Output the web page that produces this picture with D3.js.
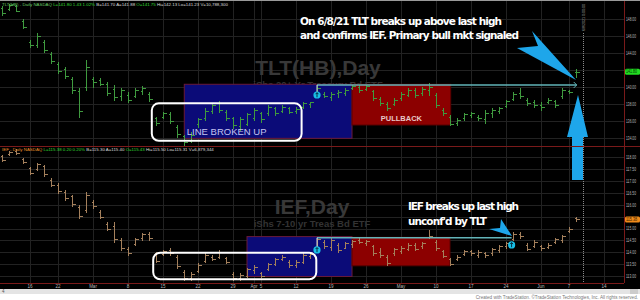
<!DOCTYPE html>
<html>
<head>
<meta charset="utf-8">
<script src="https://cdn.jsdelivr.net/npm/d3@7"></script>
<style>
  body { margin: 0; background: #fff; }
  svg { display: block; }
</style>
</head>
<body>
<div id="chart"></div>
<script>
// Size of the page / panes
const width = 640;
const height = 300;
const plotRight = 624;
const topPane = { y0: 0, y1: 146 };
const botPane = { y0: 146, y1: 283 };

// Trading calendar (category axis)
const holidays = ["2021-02-15", "2021-04-02", "2021-05-31"];
const parseDay = d3.timeParse("%Y-%m-%d");
const fmtDay = d3.timeFormat("%Y-%m-%d");
const days = d3.timeDay.range(parseDay("2021-02-09"), parseDay("2021-06-19"))
    .filter((d) => d.getDay() !== 0 && d.getDay() !== 6 && !holidays.includes(fmtDay(d)))
    .map(fmtDay);

// x axis labels
const tickDates = ["2021-02-16", "2021-02-22", "2021-03-01", "2021-03-08", "2021-03-15", "2021-03-22",
    "2021-03-29", "2021-04-01", "2021-04-05", "2021-04-12", "2021-04-19", "2021-04-26", "2021-05-03",
    "2021-05-10", "2021-05-17", "2021-05-24", "2021-06-01", "2021-06-07", "2021-06-14"];
const tickText = ["16", "22", "Mar", "8", "15", "22", "29", "Apr", "5", "12", "19", "26", "May",
    "10", "17", "24", "Jun", "7", "14"];

// y axis labels
const tltTicks = [148, 146, 144, 142, 140, 138, 136, 134];
const iefTicks = [118, 117.5, 117, 116.5, 116, 115.5, 115, 114.5, 114, 113.5, 113];

// TLT daily bars [open, high, low, close], Feb 9 .. Jun 8
const tltBars = [
    [149.3, 149.5, 148.5, 148.7], [149.2, 149.8, 149.1, 149.6], [149.5, 149.6, 148.9, 149.0], [147.8, 148.0, 146.9, 147.1],
    [145.3, 145.5, 144.7, 144.9], [144.9, 146.35, 144.7, 146.0], [145.3, 145.5, 144.1, 144.3], [143.9, 144.1, 142.8, 143.0],
    [142.7, 142.9, 141.65, 141.9], [142.1, 142.35, 141.05, 141.3], [141.0, 141.2, 139.3, 139.6], [139.5, 139.9, 136.5, 137.2],
    [140.0, 143.2, 139.65, 142.3], [140.9, 141.2, 140.0, 140.6], [140.8, 141.05, 140.25, 140.4], [140.3, 140.6, 139.05, 139.3],
    [139.8, 140.25, 138.5, 138.8], [139.0, 139.9, 138.5, 139.6], [139.1, 139.4, 138.25, 138.5], [139.0, 139.9, 138.8, 139.6],
    [139.5, 140.1, 139.2, 139.9], [139.2, 139.4, 138.35, 138.6], [136.3, 136.5, 135.5, 135.8], [136.5, 137.05, 136.35, 136.9],
    [136.8, 137.05, 135.75, 136.0], [135.3, 135.5, 134.1, 134.5], [134.2, 134.35, 133.05, 133.5], [133.7, 134.7, 133.5, 134.4],
    [135.6, 136.35, 135.3, 136.2], [136.3, 137.5, 136.1, 137.2], [137.2, 138.1, 136.95, 137.9], [138.1, 138.35, 137.05, 137.3],
    [137.1, 137.3, 136.1, 136.3], [136.3, 136.5, 135.2, 135.5], [135.4, 136.5, 134.95, 136.2], [135.7, 136.95, 135.5, 136.8],
    [136.4, 137.5, 136.1, 137.3], [136.9, 137.05, 135.9, 136.2], [136.9, 137.9, 136.7, 137.7], [137.5, 137.65, 136.7, 136.9],
    [137.2, 137.9, 137.05, 137.7], [137.5, 137.65, 136.95, 137.1], [137.2, 137.65, 136.95, 137.4], [137.6, 138.25, 137.5, 138.1],
    [138.0, 138.25, 137.65, 138.2], [139.3, 140.24, 139.05, 139.9], [139.2, 139.4, 138.8, 139.0], [138.8, 139.4, 138.5, 139.2],
    [139.3, 139.65, 138.8, 139.4], [139.3, 139.9, 139.05, 139.7], [139.9, 140.2, 139.75, 140.1], [140.0, 140.2, 139.4, 139.6],
    [139.8, 140.2, 139.65, 140.1], [139.5, 139.65, 138.5, 138.7], [138.6, 138.8, 137.9, 138.1], [138.0, 138.25, 137.3, 137.5],
    [138.0, 138.7, 137.9, 138.5], [138.7, 139.4, 138.5, 139.2], [139.1, 139.9, 138.95, 139.7], [139.6, 139.9, 138.8, 139.1],
    [139.3, 140.0, 139.05, 139.8], [139.6, 140.45, 139.05, 140.0], [139.1, 139.3, 137.65, 137.9], [137.3, 137.5, 136.7, 136.9],
    [136.5, 136.7, 135.5, 135.7], [135.8, 136.35, 135.5, 136.1], [136.3, 136.95, 136.1, 136.8], [136.7, 137.05, 136.5, 136.9],
    [136.5, 136.7, 136.1, 136.3], [136.2, 137.3, 135.75, 137.0], [136.9, 137.5, 136.5, 137.3], [137.2, 137.65, 136.95, 137.5],
    [137.8, 138.5, 137.65, 138.3], [138.6, 139.4, 138.5, 139.2], [139.3, 139.9, 138.7, 138.9], [138.5, 138.7, 137.9, 138.1],
    [138.2, 138.5, 137.65, 137.9], [137.9, 138.25, 137.3, 137.6], [138.2, 138.7, 138.1, 138.5], [138.3, 138.5, 137.65, 137.9],
    [138.9, 139.9, 138.7, 139.7], [139.5, 139.65, 139.3, 139.4], [141.75, 142.13, 141.23, 141.80]
];

// IEF daily bars [open, high, low, close], Feb 9 .. Jun 8
const iefBars = [
    [118.05, 118.10, 117.84, 117.90], [118.12, 118.27, 118.10, 118.22], [118.25, 118.35, 118.14, 118.18], [117.92, 117.97, 117.76, 117.80],
    [117.55, 117.59, 117.30, 117.35], [117.50, 117.76, 117.47, 117.70], [117.62, 117.68, 117.21, 117.28], [117.05, 117.13, 116.79, 116.85],
    [116.85, 116.92, 116.50, 116.58], [116.55, 116.62, 116.20, 116.28], [116.35, 116.41, 115.95, 116.02], [115.92, 115.99, 115.44, 115.52],
    [115.80, 116.54, 115.70, 116.40], [116.10, 116.20, 115.86, 115.95], [115.70, 115.78, 115.44, 115.50], [115.20, 115.27, 114.94, 115.00],
    [115.10, 115.27, 114.43, 114.55], [114.50, 114.60, 114.10, 114.18], [114.15, 114.22, 113.88, 113.95], [114.35, 114.60, 114.31, 114.55],
    [114.58, 114.81, 114.52, 114.75], [114.78, 114.85, 114.52, 114.58], [113.95, 114.01, 113.59, 113.65], [113.92, 114.10, 113.88, 114.05],
    [114.10, 114.18, 113.88, 113.95], [113.82, 113.88, 113.34, 113.42], [113.18, 113.25, 112.83, 112.92], [112.90, 113.17, 112.83, 113.10],
    [113.22, 113.55, 113.17, 113.48], [113.65, 113.97, 113.59, 113.90], [113.82, 113.88, 113.67, 113.72], [113.80, 114.10, 113.76, 114.02],
    [113.75, 113.80, 113.55, 113.60], [113.10, 113.17, 112.83, 112.90], [112.92, 113.13, 112.83, 113.05], [113.02, 113.34, 112.96, 113.28],
    [113.25, 113.46, 113.13, 113.40], [113.12, 113.17, 112.96, 113.00], [113.30, 113.55, 113.25, 113.50], [113.50, 113.76, 113.46, 113.70],
    [113.72, 113.88, 113.67, 113.82], [113.60, 113.67, 113.38, 113.45], [113.45, 113.67, 113.38, 113.60], [113.60, 113.97, 113.55, 113.90],
    [113.85, 113.97, 113.76, 113.92], [114.20, 114.64, 114.10, 114.55], [114.45, 114.52, 114.18, 114.25], [114.22, 114.60, 114.10, 114.50],
    [114.30, 114.39, 114.01, 114.10], [114.20, 114.43, 114.18, 114.38], [114.35, 114.52, 114.22, 114.48], [114.50, 114.60, 114.39, 114.45],
    [114.40, 114.52, 114.31, 114.48], [114.25, 114.31, 113.88, 113.95], [114.00, 114.18, 113.80, 113.88], [113.80, 113.88, 113.46, 113.55],
    [113.95, 114.18, 113.88, 114.12], [114.05, 114.26, 113.97, 114.20], [114.15, 114.39, 114.10, 114.32], [114.30, 114.39, 114.10, 114.15],
    [114.25, 114.43, 114.18, 114.40], [114.65, 114.94, 114.60, 114.70], [114.45, 114.52, 114.10, 114.18], [114.05, 114.10, 113.80, 113.85],
    [113.70, 113.76, 113.46, 113.52], [113.70, 113.88, 113.67, 113.82], [113.92, 114.10, 113.88, 114.05], [114.05, 114.10, 113.88, 113.95],
    [113.90, 114.10, 113.80, 114.02], [113.95, 114.01, 113.80, 113.90], [113.95, 114.18, 113.88, 114.12], [114.10, 114.31, 114.01, 114.25],
    [114.25, 114.43, 114.18, 114.38], [114.55, 114.85, 114.52, 114.78], [114.78, 114.85, 114.60, 114.70], [114.30, 114.39, 114.10, 114.15],
    [114.25, 114.52, 114.22, 114.45], [114.25, 114.31, 114.10, 114.18], [114.22, 114.39, 114.18, 114.32], [114.42, 114.60, 114.39, 114.55],
    [114.50, 114.73, 114.43, 114.68], [114.90, 115.06, 114.85, 115.00], [115.43, 115.50, 115.31, 115.38]
];

// Scales
const x = d3.scaleLinear().domain([4, 86]).range([30, 604]);
const yTop = d3.scaleLinear().domain([134, 148]).range([138, 19]);
const yBot = d3.scaleLinear().domain([113, 118]).range([276, 157.3]);
const dayIdx = (s) => days.indexOf(s);

const svg = d3.select("#chart")
    .append("svg")
    .attr("width", width)
    .attr("height", height)
    .style("font-family", "Arial, 'Liberation Sans', sans-serif");

// Backgrounds
svg.append("rect").attr("width", width).attr("height", height).attr("fill", "#fff");
svg.append("rect").attr("width", width).attr("height", 289).attr("fill", "#000");
svg.append("line").attr("x1", 0).attr("x2", width).attr("y1", 0.5).attr("y2", 0.5).attr("stroke", "#9a9a9a");

// Grid
const grid = svg.append("g").attr("stroke", "#222").attr("shape-rendering", "crispEdges");
tickDates.forEach((d) => {
    const xx = Math.round(x(dayIdx(d))) + 0.5;
    grid.append("line").attr("x1", xx).attr("x2", xx).attr("y1", 1).attr("y2", botPane.y1);
});
tltTicks.forEach((v) => {
    grid.append("line").attr("x1", 0).attr("x2", plotRight).attr("y1", Math.round(yTop(v)) + 0.5).attr("y2", Math.round(yTop(v)) + 0.5);
});
iefTicks.forEach((v) => {
    grid.append("line").attr("x1", 0).attr("x2", plotRight).attr("y1", Math.round(yBot(v)) + 0.5).attr("y2", Math.round(yBot(v)) + 0.5);
});

// Watermarks
function watermark(cx, yMain, main, sub) {
    svg.append("text").attr("x", cx).attr("y", yMain).attr("text-anchor", "middle")
        .attr("font-size", 21).attr("font-weight", "bold").attr("fill", "#383838").text(main);
    svg.append("text").attr("x", cx).attr("y", yMain + 13).attr("text-anchor", "middle")
        .attr("font-size", 9.5).attr("font-weight", "bold").attr("fill", "#333").text(sub);
}
watermark(318, 75, "TLT(HB),Day", "iShs 20+ Yr Treasury Bd ETF");
watermark(312, 214, "IEF,Day", "iShs 7-10 yr Treas Bd ETF");

// Annotation boxes (date index / price)
function zone(y, i0, i1, p0, p1, fill, stroke) {
    svg.append("rect")
        .attr("x", x(i0)).attr("y", y(p0))
        .attr("width", x(i1) - x(i0)).attr("height", y(p1) - y(p0))
        .attr("fill", fill).attr("stroke", stroke).attr("stroke-width", 1);
}
zone(yTop, 26.04, 50, 140.32, 133.96, "#0b0b78", "#6a1a3a");
zone(yTop, 50, 64.1, 140.32, 135.53, "#8c0000", "#5a0000");
zone(yBot, 35, 50, 114.66, 112.98, "#0b0b78", "#6a1a3a");
zone(yBot, 50, 64, 114.63, 113.43, "#8c0000", "#5a0000");

svg.append("text").attr("x", (x(50) + x(64.1)) / 2).attr("y", yTop(135.95)).attr("text-anchor", "middle")
    .attr("font-size", 7.5).attr("font-weight", "bold").attr("fill", "#e8c8c8").text("PULLBACK");

// OHLC bars
function drawBars(bars, y, color) {
    const g = svg.append("g").attr("stroke", color).attr("stroke-width", 1).attr("shape-rendering", "crispEdges");
    bars.forEach((b, i) => {
        const xx = Math.round(x(i)) + 0.5;
        g.append("line").attr("x1", xx).attr("x2", xx).attr("y1", y(b[1])).attr("y2", y(b[2]) + 1);
        g.append("line").attr("x1", xx - 2).attr("x2", xx).attr("y1", Math.round(y(b[0])) + 0.5).attr("y2", Math.round(y(b[0])) + 0.5);
        g.append("line").attr("x1", xx).attr("x2", xx + 3).attr("y1", Math.round(y(b[3])) + 0.5).attr("y2", Math.round(y(b[3])) + 0.5);
    });
}
drawBars(tltBars, yTop, "#3f9a3f");
drawBars(iefBars, yBot, "#a4805c");

// White rounded boxes
function roundBox(y, i0, i1, p0, p1) {
    svg.append("rect")
        .attr("x", x(i0)).attr("y", y(p0))
        .attr("width", x(i1) - x(i0)).attr("height", y(p1) - y(p0))
        .attr("rx", 7).attr("fill", "none").attr("stroke", "#fff").attr("stroke-width", 2);
}
roundBox(yTop, 21.4, 42.8, 138.08, 133.68);
roundBox(yBot, 21.6, 44.9, 113.98, 112.86);
svg.append("text").attr("x", (x(21.4) + x(42.8)) / 2).attr("y", yTop(134.3)).attr("text-anchor", "middle")
    .attr("font-size", 9.5).attr("fill", "#c4c4f0").text("LINE BROKEN UP");

// Last-high lines with break markers
function highLine(y, i0, i1, p, markIdx, markP) {
    const g = svg.append("g");
    g.append("line").attr("x1", x(i0)).attr("x2", x(i1)).attr("y1", y(p)).attr("y2", y(p))
        .attr("stroke", "#62b4b8").attr("stroke-width", 1.5);
    g.append("line").attr("x1", x(i0)).attr("x2", x(i0)).attr("y1", y(p)).attr("y2", y(markP) - 3)
        .attr("stroke", "#ddd").attr("stroke-width", 1);
    markIdx.forEach((m) => {
        const cx = x(m[0]), cy = y(m[1]);
        g.append("circle").attr("cx", cx).attr("cy", cy).attr("r", 3.6).attr("fill", "#19c0e8");
        g.append("path").attr("d", `M${cx},${cy - 2.3}L${cx},${cy + 2.3}M${cx - 1.5},${cy - 0.8}L${cx},${cy - 2.3}L${cx + 1.5},${cy - 0.8}`)
            .attr("stroke", "#002030").attr("stroke-width", 0.9).attr("fill", "none");
    });
}
highLine(yTop, 45, 82.1, 140.24, [[45, 139.06]], 139.06);
highLine(yBot, 45, 72.8, 114.61, [[45, 114.10], [72.8, 114.31]], 114.10);
svg.append("path").attr("d", `M${x(82.1) - 3},${yTop(140.24) - 3}L${x(82.1)},${yTop(140.24)}L${x(82.1) - 3},${yTop(140.24) + 3}`)
    .attr("stroke", "#62b4b8").attr("stroke-width", 1).attr("fill", "none");

// Current bar marker
svg.append("line").attr("x1", 583.5).attr("x2", 583.5).attr("y1", 33).attr("y2", botPane.y1)
    .attr("stroke", "#8a8a8a").attr("stroke-dasharray", "1,1");
svg.append("text").attr("transform", "translate(585,31) rotate(-90)").attr("font-size", 4)
    .attr("textLength", 27).attr("lengthAdjust", "spacingAndGlyphs")
    .attr("fill", "#aaa").text("6/8/2021 0:00:00");

// Blue arrows
svg.append("polygon").attr("points", "532,31 576,80 517,48 538,46").attr("fill", "#1ea6ea");
svg.append("polygon").attr("points", "501,219 512,236 489,229 500,228").attr("fill", "#1ea6ea");
svg.append("polygon").attr("points", "578,95 588,137 583,137 583,180 572,180 572,137 567,137").attr("fill", "#1ea6ea");

// Annotation text
const note = svg.append("g").attr("font-size", 10.5).attr("font-weight", "bold").attr("fill", "#fff")
    .attr("font-family", "'DejaVu Sans', sans-serif");
note.append("text").attr("x", 300).attr("y", 25).attr("textLength", 202).text("On 6/8/21 TLT breaks up above last high");
note.append("text").attr("x", 300).attr("y", 38.5).attr("textLength", 219).text("and confirms IEF. Primary bull mkt signaled");
note.append("text").attr("x", 408).attr("y", 210).attr("textLength", 111).text("IEF breaks up last high");
note.append("text").attr("x", 408).attr("y", 224.5).attr("textLength", 79).text("unconf'd by TLT");

// Pane borders
const border = svg.append("g").attr("stroke", "#7a1a1a").attr("shape-rendering", "crispEdges");
border.append("line").attr("x1", plotRight + 0.5).attr("x2", plotRight + 0.5).attr("y1", 1).attr("y2", botPane.y1);
border.append("line").attr("x1", 0).attr("x2", width).attr("y1", botPane.y0 + 0.5).attr("y2", botPane.y0 + 0.5);
border.append("line").attr("x1", 0).attr("x2", plotRight).attr("y1", botPane.y1 + 0.5).attr("y2", botPane.y1 + 0.5);

// Price axes (labels under the last-price tag are hidden, as in the platform)
const fmt = d3.format(".2f");
const tltLast = tltBars[tltBars.length - 1][3];
const iefLast = iefBars[iefBars.length - 1][3];
function priceAxis(y, ticks, last) {
    const a = svg.append("g").attr("transform", `translate(${plotRight},0)`)
        .call(d3.axisRight(y).tickValues(ticks.filter((v) => Math.abs(y(v) - y(last)) > 6))
            .tickSize(0).tickPadding(2).tickFormat(fmt));
    a.select(".domain").remove();
    a.selectAll("text").attr("font-size", 4.5).attr("fill", "#bbb").attr("font-family", "Arial, sans-serif")
        .attr("textLength", 10).attr("lengthAdjust", "spacingAndGlyphs");
}
priceAxis(yTop, tltTicks, tltLast);
priceAxis(yBot, iefTicks, iefLast);

// Last price tags
function lastTag(y, v, bg, fg) {
    svg.append("rect").attr("x", plotRight + 1).attr("y", y(v) - 3).attr("width", 15).attr("height", 6)
        .attr("rx", 1.5).attr("fill", bg);
    svg.append("text").attr("x", plotRight + 2).attr("y", y(v) + 1.6).attr("font-size", 4.5)
        .attr("textLength", 11).attr("lengthAdjust", "spacingAndGlyphs")
        .attr("fill", fg).text(fmt(v));
}
lastTag(yTop, tltLast, "#22dd22", "#003300");
lastTag(yBot, iefLast, "#f08a1a", "#331a00");

// Date axis
const xAx = svg.append("g").attr("font-size", 4.5).attr("fill", "#bbb").attr("text-anchor", "middle");
tickDates.forEach((d, i) => {
    xAx.append("text").attr("x", x(dayIdx(d))).attr("y", 287.5).text(tickText[i]);
});

// Info lines
function infoLine(y, parts) {
    const t = svg.append("text").attr("x", 2).attr("y", y).attr("font-size", 4.4);
    parts.forEach((p) => t.append("tspan").attr("fill", p[1]).text(p[0]));
}
infoLine(5.5, [["TLT(HB) - Daily  NASDAQ  ", "#6c6"], ["L=141.80  1.43  1.02%  ", "#3d3"],
    ["B=141.70  A=141.88  ", "#ddd"], ["O=141.75  ", "#3d3"], ["Hi=142.13  Lo=141.23  V=10,788,300", "#ddd"]]);
infoLine(150.5, [["IEF - Daily  NASDAQ  ", "#e8902a"], ["L=115.38  0.20  0.20%  ", "#3d3"],
    ["B=115.30  A=115.40  ", "#ddd"], ["O=115.43  ", "#3d3"], ["Hi=115.50  Lo=115.31  V=6,879,344", "#ddd"]]);

// Scrollbar and credit
svg.append("rect").attr("x", 0).attr("y", 289).attr("width", width).attr("height", 5).attr("fill", "#e4e4e4");
svg.append("rect").attr("x", 630).attr("y", 289).attr("width", 8).attr("height", 5).attr("fill", "#ccc");
svg.append("text").attr("x", 2).attr("y", 293.3).attr("font-size", 4.5).attr("fill", "#555").text("4");
svg.append("text").attr("x", 638).attr("y", 299).attr("text-anchor", "end").attr("font-size", 4.6)
    .attr("fill", "#777").text("Created with TradeStation. \u00A9TradeStation Technologies, Inc. All rights reserved.");
</script>
</body>
</html>
